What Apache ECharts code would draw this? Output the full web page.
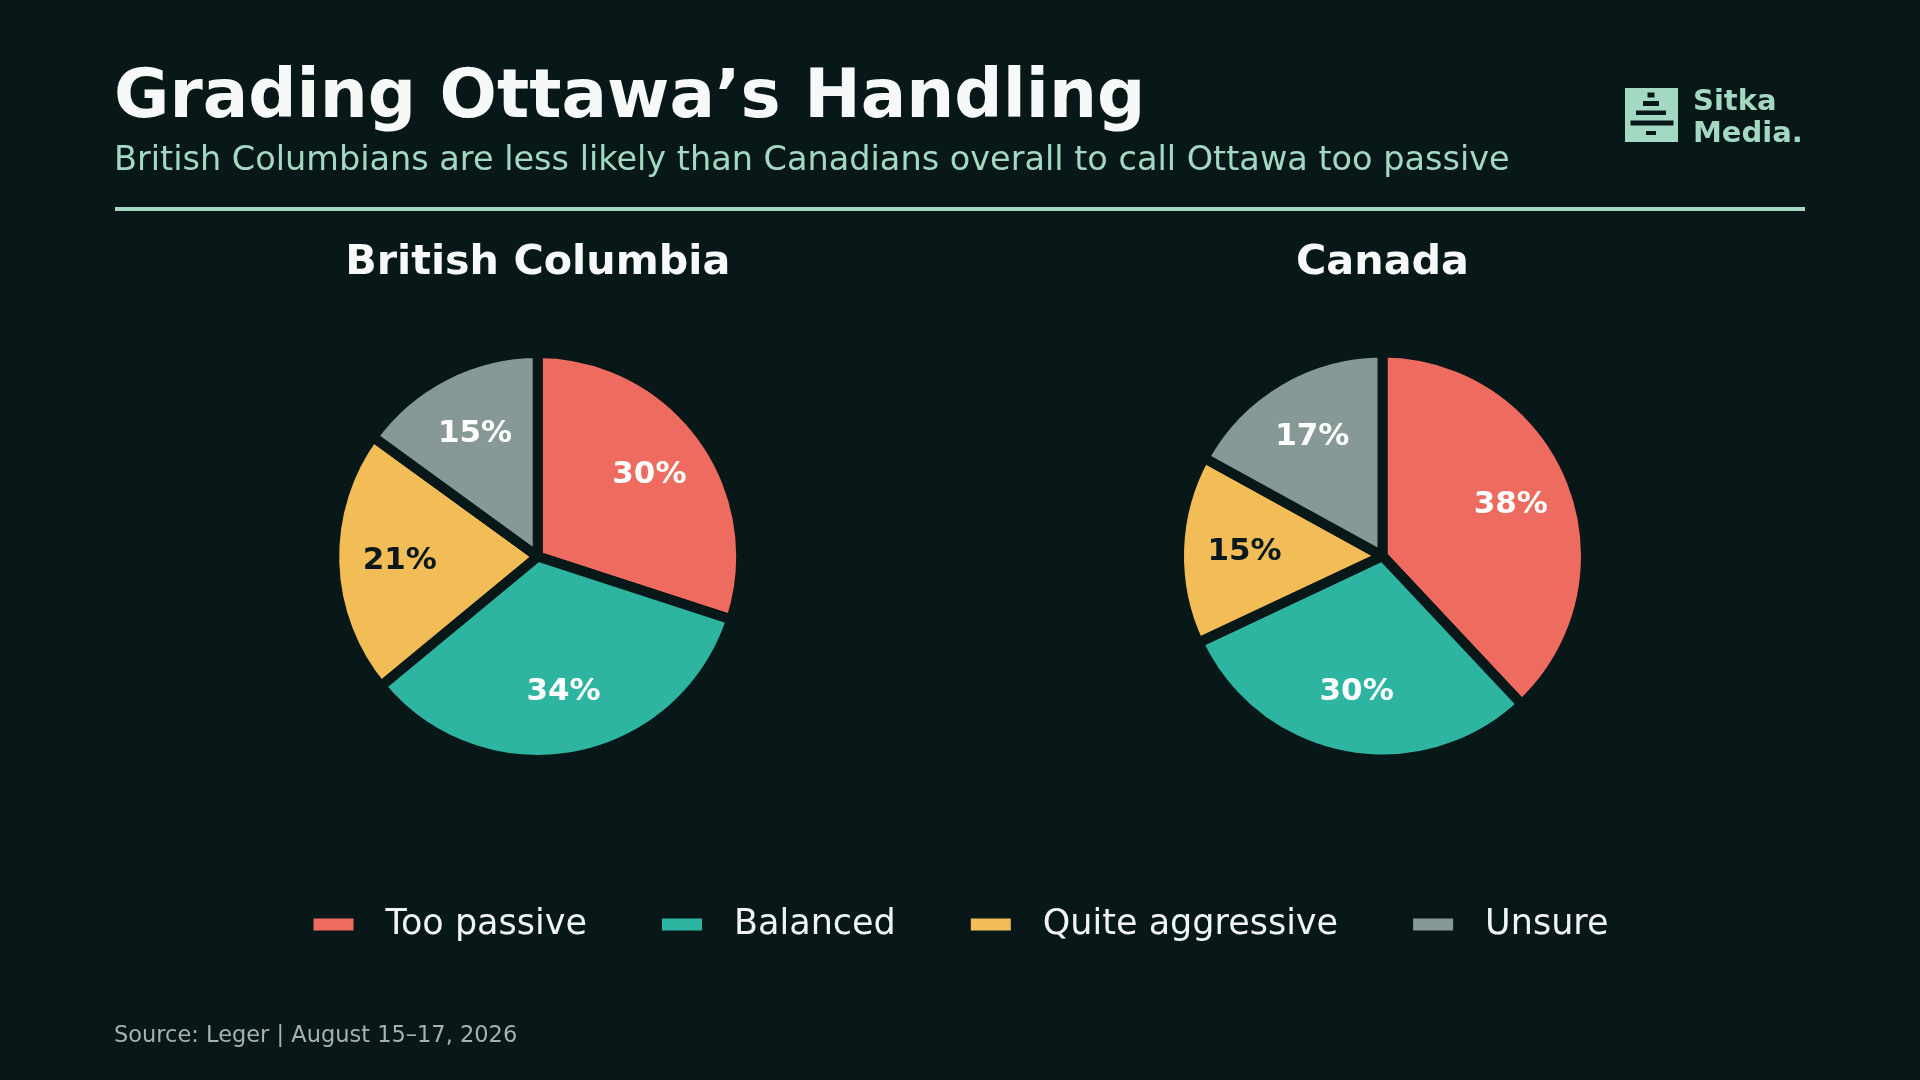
<!DOCTYPE html>
<html>
<head>
<meta charset="utf-8">
<script src="https://cdn.jsdelivr.net/npm/echarts@6/dist/echarts.min.js"></script>
<style>
  html, body { margin: 0; padding: 0; background: #081717; }
  #chart { width: 1920px; height: 1080px; }
</style>
</head>
<body>
<div id="chart"></div>
<script>
const categories = ['Too passive', 'Balanced', 'Quite aggressive', 'Unsure'];
const bcValues = [30, 34, 21, 15];
const caValues = [38, 30, 15, 17];
const regionNames = ['British Columbia', 'Canada'];
const titleText = 'Grading Ottawa\u2019s Handling';
const subtitleText = 'British Columbians are less likely than Canadians overall to call Ottawa too passive';
const sourceText = 'Source: Leger | August 15\u201317, 2026';

const BG = '#081717';
const MINT = '#A3D9C3';
const colors = ['#ED6B5F', '#2DB5A2', '#F2BC57', '#879996'];
const labelColors = ['#FFFFFF', '#FFFFFF', '#0A1A1A', '#FFFFFF'];
const centers = [[537.7, 556.5], [1382.5, 556]];
const FONT = '"DejaVu Sans", sans-serif';

const chart = echarts.init(document.getElementById('chart'), null, { renderer: 'canvas' });

function sliceData(vals) {
  return categories.map((n, i) => ({ name: n, value: vals[i], itemStyle: { color: colors[i] } }));
}
function labelData(vals) {
  return categories.map((n, i) => ({ name: n, value: vals[i], label: { color: labelColors[i] } }));
}

const allValues = [bcValues, caValues];
const series = [];
allValues.forEach((vals, k) => {
  series.push({
    type: 'pie',
    center: centers[k],
    radius: 203.5,
    startAngle: 90,
    clockwise: true,
    avoidLabelOverlap: false,
    data: sliceData(vals),
    itemStyle: { borderColor: BG, borderWidth: 10 },
    label: { show: false },
    labelLine: { show: false },
    emphasis: { disabled: true },
    animation: false
  });
});
allValues.forEach((vals, k) => {
  series.push({
    type: 'pie',
    center: centers[k],
    radius: [72, 198],
    startAngle: 90,
    clockwise: true,
    silent: true,
    legendHoverLink: false,
    avoidLabelOverlap: false,
    data: labelData(vals),
    itemStyle: { color: 'rgba(0,0,0,0)', borderWidth: 0 },
    label: {
      show: true,
      position: 'inside',
      formatter: '{c}%',
      fontSize: 31,
      fontWeight: 'bold',
      fontFamily: FONT
    },
    labelLine: { show: false },
    emphasis: { disabled: true },
    animation: false
  });
});

function txt(x, y, text, font, fill, align) {
  return {
    type: 'text', x: x, y: y, silent: true,
    style: { text: text, font: font, fill: fill, textAlign: align || 'left', textVerticalAlign: 'middle', align: align || 'left', verticalAlign: 'middle' }
  };
}
function box(x, y, w, h, fill) {
  return { type: 'rect', silent: true, shape: { x: x, y: y, width: w, height: h }, style: { fill: fill } };
}

const graphics = [
  txt(114, 99.5, titleText, 'bold 67.5px ' + FONT, '#F7F9F9'),
  txt(114, 161.5, subtitleText, '33.5px ' + FONT, MINT),
  box(115, 207, 1690, 4, MINT),
  txt(centers[0][0], 263.5, regionNames[0], 'bold 41.3px ' + FONT, '#F7F9F9', 'center'),
  txt(centers[1][0], 263.5, regionNames[1], 'bold 41.3px ' + FONT, '#F7F9F9', 'center'),
  txt(114, 1036.5, sourceText, '22.5px ' + FONT, '#A2B3B1'),
  // logo
  box(1625, 88, 53, 54, MINT),
  box(1647.5, 92.5, 7, 5, BG),
  box(1643, 101, 16, 5, BG),
  box(1636, 110.5, 30, 4.5, BG),
  box(1630.5, 120.5, 43, 5, BG),
  box(1646, 131, 10, 4, BG),
  txt(1693, 102, 'Sitka', '900 29px ' + FONT, MINT),
  txt(1693, 134, 'Media.', '900 29px ' + FONT, MINT)
];

chart.setOption({
  backgroundColor: BG,
  animation: false,
  legend: {
    data: categories,
    left: 'center',
    top: 902,
    icon: 'rect',
    itemWidth: 42,
    itemHeight: 14,
    itemGap: 73,
    selectedMode: false,
    textStyle: { color: '#F2F4F4', fontSize: 35, fontFamily: FONT, padding: [0, 0, 0, 26] }
  },
  series: series,
  graphic: graphics
});
</script>
</body>
</html>
